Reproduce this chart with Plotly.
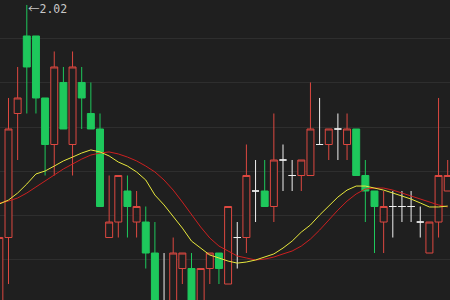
import plotly.graph_objects as go

# candle index, OHLC prices
idx = list(range(50))
opens = [1.82, 1.87, 1.95, 2.00, 2.00, 1.96, 1.93, 1.97, 1.93, 1.97,
         1.95, 1.94, 1.87, 1.88, 1.90, 1.88, 1.88, 1.86, 1.825, 1.82,
         1.85, 1.85, 1.82, 1.85, 1.86, 1.84, 1.87, 1.87, 1.90, 1.90,
         1.89, 1.92, 1.91, 1.91, 1.91, 1.93, 1.93, 1.94, 1.93, 1.94,
         1.91, 1.90, 1.88, 1.89, 1.89, 1.89, 1.88, 1.86, 1.88, 1.90]
highs = [1.875, 1.96, 1.98, 2.02, 2.00, 1.96, 1.99, 1.98, 1.99, 1.98,
         1.97, 1.95, 1.91, 1.91, 1.91, 1.90, 1.89, 1.88, 1.86, 1.87,
         1.86, 1.86, 1.85, 1.86, 1.86, 1.89, 1.88, 1.93, 1.92, 1.92,
         1.95, 1.93, 1.92, 1.92, 1.97, 1.96, 1.94, 1.95, 1.95, 1.94,
         1.92, 1.90, 1.90, 1.90, 1.90, 1.90, 1.89, 1.88, 1.96, 1.92]
lows = [1.81, 1.84, 1.92, 1.95, 1.95, 1.91, 1.91, 1.94, 1.91, 1.94,
        1.94, 1.89, 1.87, 1.87, 1.87, 1.87, 1.85, 1.81, 1.81, 1.81,
        1.84, 1.81, 1.81, 1.84, 1.84, 1.84, 1.85, 1.86, 1.88, 1.89,
        1.88, 1.90, 1.90, 1.90, 1.91, 1.93, 1.92, 1.92, 1.92, 1.91,
        1.88, 1.86, 1.86, 1.87, 1.88, 1.88, 1.87, 1.86, 1.87, 1.90]
closes = [1.87, 1.94, 1.96, 1.98, 1.96, 1.93, 1.98, 1.94, 1.98, 1.96,
          1.94, 1.89, 1.88, 1.91, 1.89, 1.89, 1.86, 1.82, 1.825, 1.86,
          1.86, 1.82, 1.85, 1.86, 1.85, 1.89, 1.87, 1.91, 1.90, 1.89,
          1.92, 1.92, 1.91, 1.92, 1.94, 1.93, 1.94, 1.94, 1.94, 1.91,
          1.90, 1.89, 1.89, 1.89, 1.89, 1.89, 1.88, 1.88, 1.91, 1.91]

ma_yellow = [1.8916, 1.8942, 1.8987, 1.9045, 1.9110, 1.9129, 1.9161, 1.9194, 1.9219, 1.9245,
             1.9265, 1.9252, 1.9226, 1.9187, 1.9161, 1.9123, 1.9071, 1.8974, 1.8910, 1.8839,
             1.8761, 1.8677, 1.8632, 1.8587, 1.8568, 1.8548, 1.8535, 1.8542, 1.8555, 1.8574,
             1.8594, 1.8632, 1.8677, 1.8735, 1.8781, 1.8845, 1.8903, 1.8961, 1.9006, 1.9032,
             1.9032, 1.9019, 1.9006, 1.8987, 1.8968, 1.8948, 1.8923, 1.8897, 1.8897, 1.8903]
ma_red = [1.8923, 1.8935, 1.8955, 1.8987, 1.9026, 1.9065, 1.9103, 1.9142, 1.9174, 1.9206,
          1.9232, 1.9245, 1.9252, 1.9239, 1.9219, 1.9194, 1.9161, 1.9123, 1.9071, 1.9006,
          1.8929, 1.8845, 1.8768, 1.8697, 1.8645, 1.8613, 1.8581, 1.8568, 1.8555, 1.8561,
          1.8574, 1.8594, 1.8613, 1.8645, 1.8690, 1.8748, 1.8813, 1.8877, 1.8935, 1.8981,
          1.9013, 1.9019, 1.9019, 1.9006, 1.8987, 1.8968, 1.8948, 1.8929, 1.8910, 1.8897]

high_arrow = "←"
high_value = "2.02"

BG = "#1f1f1f"
RED = "#dc4840"
GREEN = "#1ec85c"
WHITE = "#f0f0f0"


def subset(cond):
    sel = [i for i in idx if cond(opens[i], closes[i])]
    return ([idx[i] for i in sel], [opens[i] for i in sel], [highs[i] for i in sel],
            [lows[i] for i in sel], [closes[i] for i in sel])


fig = go.Figure()

groups = [
    (lambda o, c: c > o, RED, BG),
    (lambda o, c: c < o, GREEN, GREEN),
    (lambda o, c: c == o, WHITE, WHITE),
]
for cond, line_col, fill_col in groups:
    x, o, h, l, c = subset(cond)
    fig.add_trace(go.Candlestick(
        x=x, open=o, high=h, low=l, close=c, whiskerwidth=0,
        increasing=dict(line=dict(color=line_col, width=1), fillcolor=fill_col),
        decreasing=dict(line=dict(color=line_col, width=1), fillcolor=fill_col),
        showlegend=False, hoverinfo="skip",
    ))

fig.add_trace(go.Scatter(x=idx, y=ma_red, mode="lines",
                         line=dict(color="#cc2020", width=1), showlegend=False,
                         hoverinfo="skip"))
fig.add_trace(go.Scatter(x=idx, y=ma_yellow, mode="lines",
                         line=dict(color="#e8e83c", width=1), showlegend=False,
                         hoverinfo="skip"))

label = ('<span style="font-family:\'Noto Sans CJK SC\'">' + high_arrow + '</span>'
         + high_value)
fig.add_annotation(x=3, y=1, yref="paper", text=label, showarrow=False,
                   xanchor="left", yanchor="top", xshift=0, yshift=1, borderpad=0,
                   font=dict(family="DejaVu Sans Mono", size=11.5, color="#c8c8c8"))

fig.update_layout(
    width=450, height=300,
    margin=dict(l=0, r=0, t=0, b=0),
    paper_bgcolor=BG, plot_bgcolor=BG,
    boxgap=0.24, boxgroupgap=0,
    xaxis=dict(range=[0.071, 49.251], showgrid=False, zeroline=False,
               showticklabels=False, rangeslider=dict(visible=False), fixedrange=True),
    yaxis=dict(range=[1.8297, 2.0232], showgrid=True, gridcolor="#2e2e2e", gridwidth=1,
               tick0=1.99806, dtick=0.028387, zeroline=False,
               showticklabels=False, fixedrange=True),
)

fig.write_html("out.html")
